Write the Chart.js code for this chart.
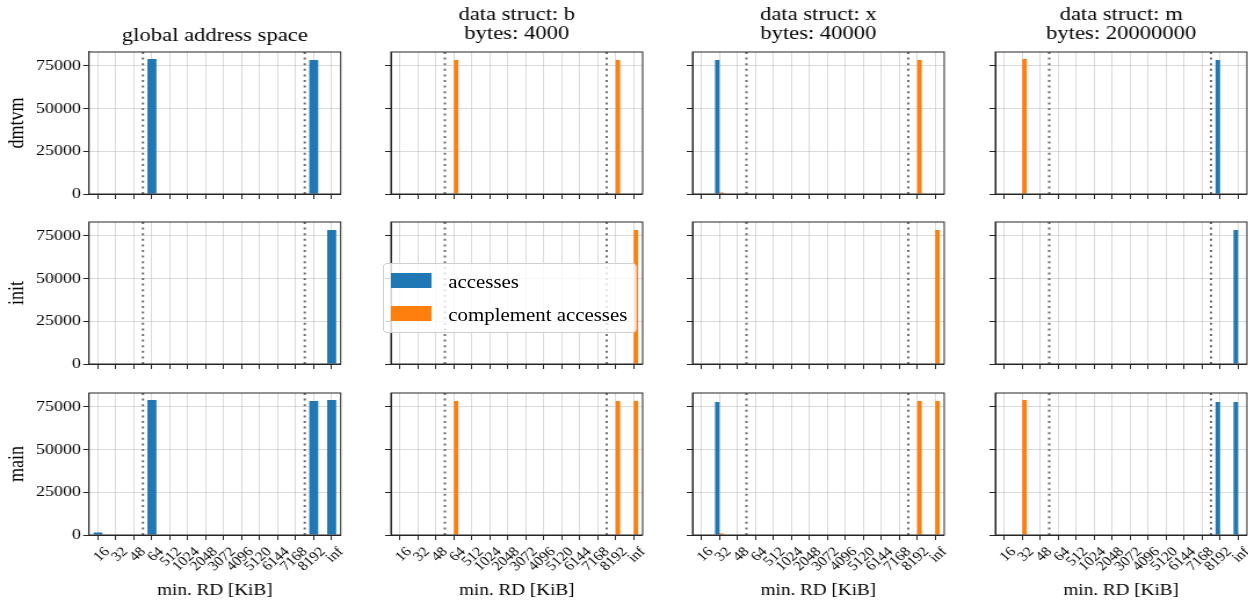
<!DOCTYPE html>
<html>
<head>
<meta charset="utf-8">
<script src="https://cdn.jsdelivr.net/npm/chart.js@4.4.0/dist/chart.umd.min.js"></script>
<style>
  html, body { margin: 0; padding: 0; background: #fff; overflow: hidden; }
  #figure { position: absolute; left: 0; top: 0; height: 602px; transform-origin: 0 0; }
  #figure canvas { position: absolute; }
  .legend { position: absolute; box-sizing: border-box; border: 1px solid #cfcfcf; border-radius: 4px;
            background: rgba(255, 255, 255, 0.8); font-family: "Liberation Serif", serif; font-size: 18px; color: #000; }
  .legend .item { position: absolute; white-space: nowrap; line-height: 18px; }
  .legend .swatch { position: absolute; }
</style>
</head>
<body>
<div id="figure"></div>
<script>
// the reference picture is wider than it is tall by this factor (text looks stretched)
const STRETCH = 1.16;
const FONT = '"Liberation Serif", serif';

// x categories: minimum reuse distance buckets
const categories = ['16', '32', '48', '64', '512', '1024', '2048', '3072', '4096', '5120', '6144', '7168', '8192', 'inf'];
const rowNames = ['dmtvm', 'init', 'main'];
const colTitles = [
  ['global address space'],
  ['data struct: b', 'bytes: 4000'],
  ['data struct: x', 'bytes: 40000'],
  ['data struct: m', 'bytes: 20000000']
];
const seriesNames = ['accesses', 'complement accesses'];
const cacheLines = [2.5, 11.5];   // dotted markers, in category units
const yTicks = [0, 25000, 50000, 75000];
const yMax = 83000;
const xTitle = 'min. RD [KiB]';

// dmtvm
const dmtvmGlobal = [0, 0, 0, 78900, 0, 0, 0, 0, 0, 0, 0, 0, 78300, 0];
const dmtvmBAcc   = [0, 0, 0, 0, 0, 0, 0, 0, 0, 0, 0, 0, 0, 0];
const dmtvmBComp  = [0, 0, 0, 78300, 0, 0, 0, 0, 0, 0, 0, 0, 78300, 0];
const dmtvmXAcc   = [0, 78300, 0, 0, 0, 0, 0, 0, 0, 0, 0, 0, 0, 0];
const dmtvmXComp  = [0, 900, 0, 0, 0, 0, 0, 0, 0, 0, 0, 0, 78300, 0];
const dmtvmMAcc   = [0, 0, 0, 0, 0, 0, 0, 0, 0, 0, 0, 0, 78300, 0];
const dmtvmMComp  = [0, 78900, 0, 300, 0, 0, 0, 0, 0, 0, 0, 0, 0, 0];

// init
const initGlobal = [0, 0, 0, 0, 0, 0, 0, 0, 0, 0, 0, 0, 0, 78300];
const initBAcc   = [0, 0, 0, 0, 0, 0, 0, 0, 0, 0, 0, 0, 0, 0];
const initBComp  = [0, 0, 0, 0, 0, 0, 0, 0, 0, 0, 0, 0, 0, 78300];
const initXAcc   = [0, 0, 0, 0, 0, 0, 0, 0, 0, 0, 0, 0, 0, 0];
const initXComp  = [0, 0, 0, 0, 0, 0, 0, 0, 0, 0, 0, 0, 0, 78300];
const initMAcc   = [0, 0, 0, 0, 0, 0, 0, 0, 0, 0, 0, 0, 0, 78300];
const initMComp  = [0, 0, 0, 0, 0, 0, 0, 0, 0, 0, 0, 0, 0, 0];

// main
const mainGlobal = [1500, 0, 0, 78900, 0, 0, 0, 0, 0, 0, 0, 0, 78300, 78900];
const mainBAcc   = [0, 0, 0, 0, 0, 0, 0, 0, 0, 0, 0, 0, 0, 0];
const mainBComp  = [0, 0, 0, 78300, 0, 0, 0, 0, 0, 0, 0, 0, 78300, 78300];
const mainXAcc   = [0, 77800, 0, 0, 0, 0, 0, 0, 0, 0, 0, 0, 0, 0];
const mainXComp  = [0, 900, 0, 0, 0, 0, 0, 0, 0, 0, 0, 0, 78300, 78300];
const mainMAcc   = [0, 0, 0, 0, 0, 0, 0, 0, 0, 0, 0, 0, 77700, 77700];
const mainMComp  = [0, 78900, 0, 0, 0, 0, 0, 0, 0, 0, 0, 0, 0, 0];

const panelData = [
  [[dmtvmGlobal], [dmtvmBAcc, dmtvmBComp], [dmtvmXAcc, dmtvmXComp], [dmtvmMAcc, dmtvmMComp]],
  [[initGlobal], [initBAcc, initBComp], [initXAcc, initXComp], [initMAcc, initMComp]],
  [[mainGlobal], [mainBAcc, mainBComp], [mainXAcc, mainXComp], [mainMAcc, mainMComp]]
];

// plot area placement in the final (stretched) picture
const plotLeft = [89, 390.7, 693, 994.7];
const plotWidth = 251.7;
const plotTop = [52, 222.3, 392.7];
const plotHeight = 142;

const colors = ['#1f77b4', '#ff7f0e'];
const gridColor = 'rgba(176, 176, 176, 0.45)';
const axisColor = '#262626';

const figure = document.getElementById('figure');
figure.style.width = (1248 / STRETCH) + 'px';
figure.style.transform = 'scaleX(' + STRETCH + ')';

// box around the whole plot area, like matplotlib spines
const framePlugin = {
  id: 'frame',
  afterDraw(chart) {
    const { ctx, chartArea: a } = chart;
    ctx.save();
    ctx.strokeStyle = axisColor;
    ctx.lineWidth = 1;
    ctx.strokeRect(a.left, a.top, a.right - a.left, a.bottom - a.top);
    ctx.restore();
  }
};

// dotted vertical markers between categories
const cacheLinePlugin = {
  id: 'cacheLines',
  afterDatasetsDraw(chart) {
    const { ctx, chartArea: a, scales: { x } } = chart;
    ctx.save();
    ctx.strokeStyle = '#6e6e6e';
    ctx.lineWidth = 2;
    ctx.setLineDash([2, 3.6]);
    cacheLines.forEach(v => {
      const px = x.getPixelForValue(v);
      ctx.beginPath();
      ctx.moveTo(px, a.top);
      ctx.lineTo(px, a.bottom);
      ctx.stroke();
    });
    ctx.restore();
  }
};

function makePanel(r, c) {
  const left = plotLeft[c] / STRETCH;
  const width = plotWidth / STRETCH;
  const canvasLeft = c === 0 ? 0 : left - 12;
  const canvasW = Math.ceil(left + width + 8 - canvasLeft);
  const yAxisW = left - canvasLeft;
  const padRight = canvasW - yAxisW - width;

  const top = plotTop[r];
  const bottom = top + plotHeight;
  const canvasTop = r === 0 ? 0 : top - 12;
  const canvasBottom = r === 2 ? 602 : bottom + 10;
  const canvasH = Math.round(canvasBottom - canvasTop);
  const xAxisH = canvasTop + canvasH - bottom;

  const canvas = document.createElement('canvas');
  canvas.width = canvasW;
  canvas.height = canvasH;
  canvas.style.left = canvasLeft + 'px';
  canvas.style.top = canvasTop + 'px';
  figure.appendChild(canvas);

  const datasets = panelData[r][c].map((values, i) => ({
    label: seriesNames[i],
    data: values,
    backgroundColor: colors[i],
    borderWidth: 0,
    categoryPercentage: 0.5,
    barPercentage: 1.0
  }));

  const title = colTitles[c];
  const titleOpts = r === 0 ? {
    display: true,
    text: title,
    fullSize: false,
    color: '#000',
    font: { family: FONT, size: 19.5, weight: 'normal', lineHeight: 0.95 },
    padding: title.length === 2 ? { top: 5.9, bottom: 9.05 } : { top: 26.75, bottom: 6.72 }
  } : { display: false };

  new Chart(canvas.getContext('2d'), {
    type: 'bar',
    data: { labels: categories, datasets: datasets },
    options: {
      responsive: false,
      animation: false,
      layout: { padding: { left: 0, right: padRight, top: r === 0 ? 0 : top - canvasTop, bottom: 0 } },
      plugins: {
        legend: { display: false },
        tooltip: { enabled: false },
        title: titleOpts
      },
      scales: {
        x: {
          grid: { offset: false, color: gridColor, tickColor: axisColor, tickLength: 5 },
          border: { color: axisColor },
          ticks: {
            display: r === 2,
            autoSkip: false,
            minRotation: 45,
            maxRotation: 45,
            labelOffset: 8,
            padding: 4,
            color: '#000',
            font: { family: FONT, size: 13.5 }
          },
          title: {
            display: r === 2,
            text: xTitle,
            color: '#000',
            font: { family: FONT, size: 16.5 },
            padding: { top: 0, bottom: 1 }
          },
          afterFit: s => { s.height = xAxisH; s.paddingLeft = 0; s.paddingRight = 0; }
        },
        y: {
          min: 0,
          max: yMax,
          afterBuildTicks: s => { s.ticks = yTicks.map(v => ({ value: v })); },
          grid: { color: gridColor, tickColor: axisColor, tickLength: 5 },
          border: { color: axisColor },
          ticks: {
            display: c === 0,
            padding: 2,
            color: '#000',
            font: { family: FONT, size: 15.5 },
            callback: v => String(v)
          },
          title: {
            display: c === 0,
            text: rowNames[r],
            color: '#000',
            font: { family: FONT, size: 18 },
            padding: { top: 4, bottom: 0 }
          },
          afterFit: s => { s.width = yAxisW; s.paddingTop = 0; s.paddingBottom = 0; }
        }
      }
    },
    plugins: [cacheLinePlugin, framePlugin]
  });
}

for (let r = 0; r < rowNames.length; r++) {
  for (let c = 0; c < colTitles.length; c++) makePanel(r, c);
}

// legend floating over the init / b panel
const legend = document.createElement('div');
legend.className = 'legend';
legend.style.left = (383.3 / STRETCH) + 'px';
legend.style.top = '262.7px';
legend.style.width = (253.4 / STRETCH) + 'px';
legend.style.height = '70.6px';
seriesNames.forEach((name, i) => {
  const rowY = 17.3 + i * 33.3;
  const sw = document.createElement('div');
  sw.className = 'swatch';
  sw.style.left = '5.8px';
  sw.style.width = '35px';
  sw.style.height = '15px';
  sw.style.top = (rowY - 8) + 'px';
  sw.style.background = colors[i];
  legend.appendChild(sw);
  const label = document.createElement('div');
  label.className = 'item';
  label.style.left = '55px';
  label.style.top = (rowY - 8) + 'px';
  label.textContent = name;
  legend.appendChild(label);
});
figure.appendChild(legend);
</script>
</body>
</html>
